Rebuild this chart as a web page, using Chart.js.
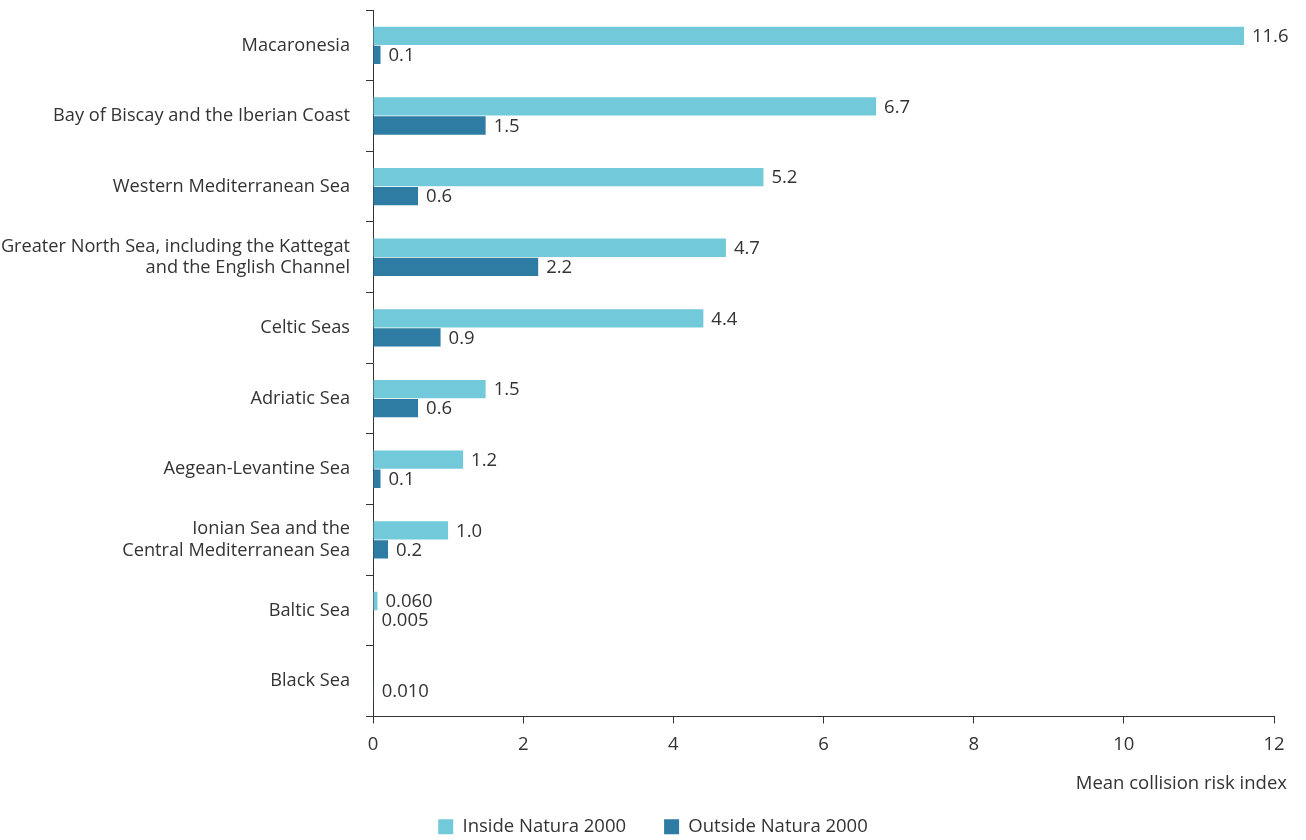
<!DOCTYPE html>
<html>
<head>
<meta charset="utf-8">
<script src="https://cdn.jsdelivr.net/npm/chart.js@4/dist/chart.umd.min.js"></script>
<style>
  html, body { margin: 0; padding: 0; background: #fff; }
  #wrap { width: 1306px; height: 840px; }
</style>
</head>
<body>
<div id="wrap"><canvas id="riskchart"></canvas></div>
<script>
var regions = [
  "Macaronesia",
  "Bay of Biscay and the Iberian Coast",
  "Western Mediterranean Sea",
  ["Greater North Sea, including the Kattegat", "and the English Channel"],
  "Celtic Seas",
  "Adriatic Sea",
  "Aegean-Levantine Sea",
  ["Ionian Sea and the", "Central Mediterranean Sea"],
  "Baltic Sea",
  "Black Sea"
];
var insideNatura = [11.6, 6.7, 5.2, 4.7, 4.4, 1.5, 1.2, 1.0, 0.06, null];
var outsideNatura = [0.1, 1.5, 0.6, 2.2, 0.9, 0.6, 0.1, 0.2, 0.005, 0.01];
var xTicks = [0, 2, 4, 6, 8, 10, 12];
var xTitle = 'Mean collision risk index';

var textColor = '#333333';
var fontSize = 18.5;
Chart.defaults.font.family = "'Open Sans', sans-serif";
Chart.defaults.font.size = fontSize;
Chart.defaults.color = textColor;

function fmt(v) {
  return v < 0.1 ? v.toFixed(3) : v.toFixed(1);
}

// value labels at the end of each bar + the x axis title
var barLabels = {
  id: 'barLabels',
  afterDatasetsDraw: function (chart) {
    var ctx = chart.ctx;
    ctx.save();
    ctx.font = fontSize + "px 'Open Sans', sans-serif";
    ctx.fillStyle = textColor;
    ctx.textBaseline = 'middle';
    ctx.textAlign = 'left';
    chart.data.datasets.forEach(function (ds, i) {
      chart.getDatasetMeta(i).data.forEach(function (bar, j) {
        var v = ds.data[j];
        if (v === null || v === undefined) return;
        ctx.fillText(fmt(v), bar.x + 8, bar.y + 1);
      });
    });
    ctx.textAlign = 'right';
    ctx.fillText(xTitle, chart.chartArea.right + 13, chart.chartArea.bottom + 67);
    ctx.restore();
  }
};

var ctx = document.getElementById("riskchart");
var riskChart = new Chart(ctx, {
  type: 'bar',
  data: {
    labels: regions,
    datasets: [{
      label: 'Inside Natura 2000',
      data: insideNatura,
      backgroundColor: '#72C9D9',
      barPercentage: 0.96,
      categoryPercentage: 0.54
    }, {
      label: 'Outside Natura 2000',
      data: outsideNatura,
      backgroundColor: '#2E7CA3',
      barPercentage: 0.96,
      categoryPercentage: 0.54
    }]
  },
  options: {
    indexAxis: 'y',
    responsive: true,
    maintainAspectRatio: false,
    animation: false,
    layout: { padding: { top: 10, right: 0, left: 0, bottom: -6 } },
    plugins: {
      tooltip: { enabled: false },
      legend: {
        position: 'bottom',
        labels: {
          boxWidth: 15,
          boxHeight: 15,
          padding: 38,
          color: textColor,
          font: { size: fontSize }
        }
      }
    },
    scales: {
      x: {
        min: 0,
        max: 12,
        afterBuildTicks: function (scale) {
          scale.ticks = xTicks.map(function (v) { return { value: v }; });
        },
        afterFit: function (scale) {
          scale.height = 63;
          scale.paddingRight = 32;
          scale.paddingLeft = 0;
        },
        grid: {
          drawOnChartArea: false,
          drawTicks: true,
          tickLength: 7,
          color: '#333333'
        },
        border: { color: '#333333', width: 1 },
        ticks: { padding: 10, color: textColor, font: { size: fontSize } }
      },
      y: {
        afterFit: function (scale) {
          scale.width = 373;
          scale.paddingTop = 0;
          scale.paddingBottom = 0;
        },
        grid: {
          offset: true,
          drawOnChartArea: false,
          tickLength: 7,
          color: '#333333'
        },
        border: { color: '#333333', width: 1 },
        ticks: { padding: 16, color: textColor, font: { size: 18.2, lineHeight: 1.2 } }
      }
    }
  },
  plugins: [barLabels]
});
</script>
</body>
</html>
